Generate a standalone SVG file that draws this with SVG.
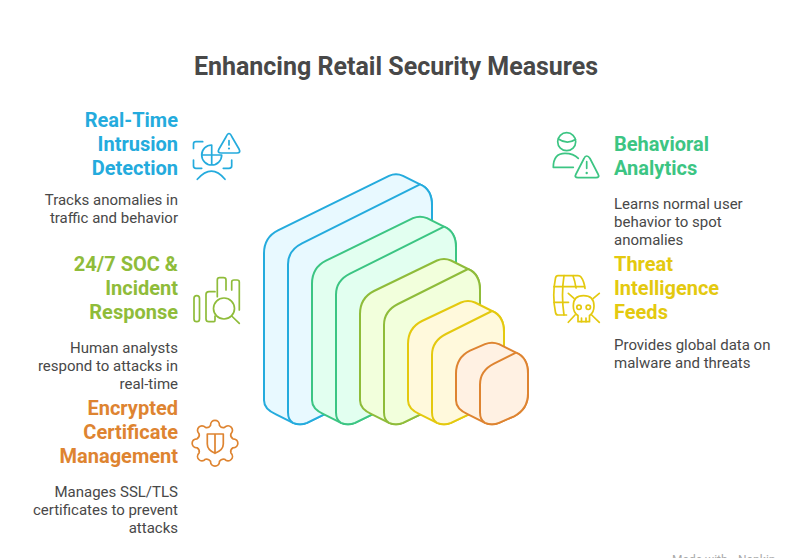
<svg xmlns="http://www.w3.org/2000/svg" width="804" height="558" viewBox="0 0 804 558">
<style>
text{font-family:Roboto,"Liberation Sans",sans-serif}
.t{font-size:25px;font-weight:700;fill:#484848;text-anchor:middle}
.h{font-size:20px;font-weight:700}
.b{font-size:15px;fill:#484848}
.e{text-anchor:end}
.i{fill:none;stroke-width:1.700;stroke-linecap:round;stroke-linejoin:round}
.l{stroke-width:2;stroke-linejoin:round}
.blue{stroke:#24abdd}.green{stroke:#3cc583}.lime{stroke:#8fbc3a}.yellow{stroke:#e4c90f}.orange{stroke:#de8431}
.cb{fill:#24abdd}.cg{fill:#3cc583}
</style>
<rect width="804" height="558" fill="#fff"/>
<text class="t" x="396" y="75">Enhancing Retail Security Measures</text>

<g id="layers">
<g id="layer-blue" class="l blue" fill="#e8f9ff">
<path d="M264 253.300Q264 237.300 278 230.300L389 175.800Q396 172.800 403 175.800L420 184.300Q432 189.300 432 205.300V345.300Q432 361.300 418 368.300L307 422.800Q300 425.800 293 422.800L276 414.300Q264 409.300 264 400.300Z"/>
<path d="M288 264.300Q288 250.300 302 243.300L420 184.300Q432 189.300 432 205.300V345.300Q432 361.300 418 368.300L307 422.800Q300 425.800 293 422.800Q288 420.300 288 412.300Z"/>
</g>
<g id="layer-green" class="l green" fill="#e2fff0">
<path d="M312 283.700Q312 267.700 326 260.700L413 218.200Q420 215.200 427 218.200L444 226.700Q456 231.700 456 247.700V357.300Q456 373.300 442 380.300L355 422.800Q348 425.800 341 422.800L324 414.300Q312 409.300 312 400.300Z"/>
<path d="M336 294.700Q336 280.700 350 273.700L444 226.700Q456 231.700 456 247.700V357.300Q456 373.300 442 380.300L355 422.800Q348 425.800 341 422.800Q336 420.300 336 412.300Z"/>
</g>
<g id="layer-lime" class="l lime" fill="#f2ffdc">
<path d="M360 314Q360 298 374 291L437 260.500Q444 257.500 451 260.500L468 269Q480 274 480 290V369.300Q480 385.300 466 392.300L403 422.800Q396 425.800 389 422.800L372 414.300Q360 409.300 360 400.300Z"/>
<path d="M384 325Q384 311 398 304L468 269Q480 274 480 290V369.300Q480 385.300 466 392.300L403 422.800Q396 425.800 389 422.800Q384 420.300 384 412.300Z"/>
</g>
<g id="layer-yellow" class="l yellow" fill="#fff9dc">
<path d="M408 344Q408 328 422 321L461 302.500Q468 299.500 475 302.500L492 311Q504 316 504 332V381.300Q504 397.300 490 404.300L451 422.800Q444 425.800 437 422.800L420 414.300Q408 409.300 408 400.300Z"/>
<path d="M432 355Q432 341 446 334L492 311Q504 316 504 332V381.300Q504 397.300 490 404.300L451 422.800Q444 425.800 437 422.800Q432 420.300 432 412.300Z"/>
</g>
<g id="layer-orange" class="l orange" fill="#fff1e3">
<path d="M456 373.700Q456 357.700 470 350.700L485 344.200Q492 341.200 499 344.200L516 352.700Q528 357.700 528 373.700V393.300Q528 409.300 514 416.300L499 422.800Q492 425.800 485 422.800L468 414.300Q456 409.300 456 400.300Z"/>
<path d="M480 384.700Q480 370.700 494 363.700L516 352.700Q528 357.700 528 373.700V393.300Q528 409.300 514 416.300L499 422.800Q492 425.800 485 422.800Q480 420.300 480 412.300Z"/>
</g>
</g>

<g id="node-intrusion">
<text class="h e" fill="#24abdd"><tspan x="178" y="127">Real-Time</tspan><tspan x="178" y="151">Intrusion</tspan><tspan x="178" y="175">Detection</tspan></text>
<text class="b e"><tspan x="178" y="205">Tracks anomalies in</tspan><tspan x="178" y="223">traffic and behavior</tspan></text>
<g class="i blue">
<path d="M229 133.500Q227.500 133.500 226 137L219 149Q217 153 221 153H237Q241 153 239 149L232 137Q230.500 133.500 229 133.500ZM229 140.500V145"/>
<path d="M193.500 148.500V144Q193.500 141.700 196 141.700H202.700M193.500 160V166Q193.500 168.300 196 168.300H201.700M231.700 160V166Q231.700 168.300 229 168.300H223.300"/>
<path d="M211.700 145A10 10 0 1 0 221.700 155H201.700M211.700 145V165"/>
<path d="M197.300 179.300Q211.700 163 225 179.300"/>
</g>
<circle class="cb" cx="229" cy="148.500" r="1.100"/>
</g>

<g id="node-soc">
<text class="h e" fill="#8fbc3a"><tspan x="178" y="271">24/7 SOC &amp;</tspan><tspan x="178" y="295">Incident</tspan><tspan x="178" y="319">Response</tspan></text>
<text class="b e"><tspan x="178" y="353">Human analysts</tspan><tspan x="178" y="371">respond to attacks in</tspan><tspan x="178" y="389">real-time</tspan></text>
<g class="i lime">
<rect x="194" y="295.700" width="5.500" height="26" rx="2.700"/>
<path d="M215 291.700H209Q206 291.700 206 294.500V319Q206 321.700 209 321.700H214Q215 321.700 215 320V316"/>
<path d="M217.300 296.700V280Q217.300 277.700 219.700 277.700H223.500Q226 277.700 226 280V290"/>
<path d="M231.700 290V282Q231.700 280 234 280H237Q239.300 280 239.300 282V310"/>
<circle cx="224" cy="308.500" r="10.500"/>
<path d="M231.700 316L239.300 323.300"/>
</g>
</g>

<g id="node-certificate">
<text class="h e" fill="#de8431"><tspan x="178" y="415">Encrypted</tspan><tspan x="178" y="439">Certificate</tspan><tspan x="178" y="463">Management</tspan></text>
<text class="b e"><tspan x="178" y="497">Manages SSL/TLS</tspan><tspan x="178" y="515">certificates to prevent</tspan><tspan x="178" y="533">attacks</tspan></text>
<g class="i orange">
<path d="M210.500 425.400C210.500 418.800 219.500 418.800 219.500 425.400Q221.500 428.300 224.470 427.460C229.100 422.800 235.500 429.200 230.900 433.800Q230 436.900 232.900 438.800C239.500 438.800 239.500 447.800 232.900 447.800Q230 449.800 230.900 452.800C235.500 457.500 229.100 463.800 224.470 459.200Q221.500 458.400 219.500 461.200C219.500 467.800 210.500 467.800 210.500 461.200Q208.500 458.400 205.500 459.200C200.900 463.800 194.500 457.500 199.100 452.800Q200 449.800 197.100 447.800C190.500 447.800 190.500 438.800 197.100 438.800Q200 436.900 199.100 433.800C194.500 429.200 200.900 422.800 205.500 427.460Q208.500 428.300 210.500 425.400Z"/>
<path d="M207.300 434H223.300V444Q223.300 450 215 453.300Q207.300 450 207.300 444ZM215 434V453.300"/>
</g>
</g>

<g id="node-behavioral">
<text class="h" fill="#3cc583"><tspan x="614" y="151">Behavioral</tspan><tspan x="614" y="175">Analytics</tspan></text>
<text class="b"><tspan x="614" y="209">Learns normal user</tspan><tspan x="614" y="227">behavior to spot</tspan><tspan x="614" y="245">anomalies</tspan></text>
<g class="i green">
<circle cx="566.700" cy="141.700" r="9"/>
<path d="M558.500 139Q567 145 575.500 139.500"/>
<path d="M573.300 167.300H553.300Q553.300 153.300 565 153.300Q573.500 153.300 578.300 158.300"/>
<path d="M586.700 156Q585 156 584 158.500L576 174Q574 177.700 578 177.700H596Q600 177.700 598 174L590 158.500Q588.500 156 586.700 156ZM586.700 161.700V168.300"/>
</g>
<circle class="cg" cx="586.700" cy="173" r="1.200"/>
</g>

<g id="node-threat">
<text class="h" fill="#e4c90f"><tspan x="614" y="271">Threat</tspan><tspan x="614" y="295">Intelligence</tspan><tspan x="614" y="319">Feeds</tspan></text>
<text class="b"><tspan x="614" y="350">Provides global data on</tspan><tspan x="614" y="368">malware and threats</tspan></text>
<g class="i yellow">
<path d="M585 288.300Q584 281 581 277Q580 275.700 578 275.700H558Q556 275.700 555.500 278Q552 295 555.500 312.500Q556 315 558 315H566.500"/>
<path d="M554 286.700H584.500M554 302.300H568.500M564 275.700Q561 295 564 315M573 275.700Q575 281 576 288"/>
<path d="M573.300 306Q573.300 295.700 583.500 295.700Q594 295.700 594 306Q594 313 589.500 315.500V321.700H578V315.500Q573.300 313 573.300 306Z"/>
<circle cx="579" cy="307.300" r="2.200"/><circle cx="588.300" cy="307.300" r="2.200"/>
<path d="M581.500 318V321.700M586 318V321.700"/>
<path d="M568.300 293.300L574 298.300M599.300 293.300L593.300 298.300M568.300 322.300L575 315M599.300 322.300L591.700 315"/>
</g>
</g>

<text y="564" font-size="12" fill="#aaa"><tspan x="672">Made with</tspan> <tspan x="738">Napkin</tspan></text>
</svg>
